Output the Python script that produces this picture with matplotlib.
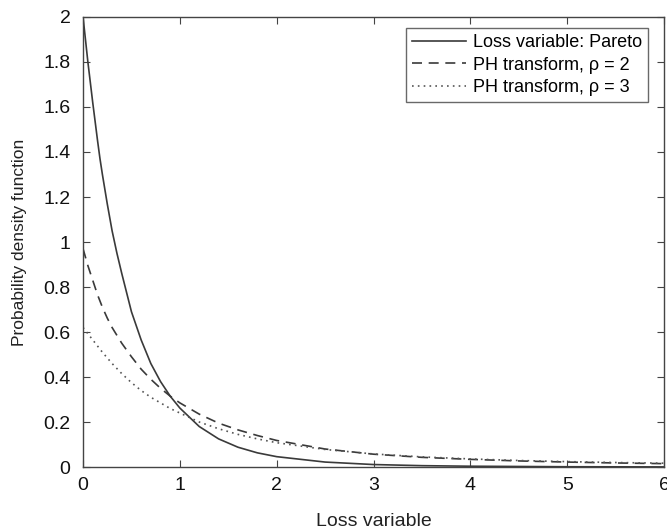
import matplotlib
matplotlib.use("Agg")
import matplotlib.pyplot as plt

# Values
x_solid = [0.0, 0.025, 0.05, 0.075, 0.1, 0.125, 0.15, 0.175, 0.2, 0.25, 0.3, 0.35, 0.4, 0.5, 0.6, 0.7, 0.8, 0.9, 1.0, 1.2, 1.4, 1.6, 1.8, 2.0, 2.5, 3.0, 3.5, 4.0, 5.0, 6.0]
y_solid = [2.0, 1.90, 1.80, 1.71, 1.62, 1.535, 1.45, 1.37, 1.30, 1.17, 1.05, 0.95, 0.86, 0.69, 0.565, 0.46, 0.38, 0.315, 0.262, 0.18, 0.125, 0.088, 0.063, 0.046, 0.022, 0.011, 0.006, 0.0035, 0.0012, 0.0005]

x_rho2 = [0.0, 0.05, 0.1, 0.15, 0.2, 0.25, 0.3, 0.4, 0.5, 0.6, 0.7, 0.8, 0.9, 1.0, 1.2, 1.4, 1.6, 1.8, 2.0, 2.5, 3.0, 3.5, 4.0, 4.5, 5.0, 5.5, 6.0]
y_rho2 = [0.97, 0.895, 0.83, 0.765, 0.71, 0.662, 0.62, 0.55, 0.49, 0.435, 0.39, 0.35, 0.315, 0.285, 0.235, 0.195, 0.165, 0.14, 0.118, 0.08, 0.057, 0.043, 0.034, 0.027, 0.022, 0.018, 0.015]

x_rho3 = [0.0, 0.1, 0.2, 0.3, 0.4, 0.5, 0.6, 0.7, 0.8, 0.9, 1.0, 1.2, 1.4, 1.6, 1.8, 2.0, 2.5, 3.0, 3.5, 4.0, 4.5, 5.0, 5.5, 6.0]
y_rho3 = [0.62, 0.565, 0.51, 0.46, 0.415, 0.375, 0.34, 0.31, 0.285, 0.26, 0.24, 0.20, 0.17, 0.145, 0.125, 0.108, 0.078, 0.058, 0.045, 0.036, 0.029, 0.024, 0.020, 0.017]

labels = ["Loss variable: Pareto", "PH transform, \u03c1 = 2", "PH transform, \u03c1 = 3"]
x_ticks = [0, 1, 2, 3, 4, 5, 6]
y_ticks = [0, 0.2, 0.4, 0.6, 0.8, 1, 1.2, 1.4, 1.6, 1.8, 2]
y_tick_labels = ['0', '0.2', '0.4', '0.6', '0.8', '1', '1.2', '1.4', '1.6', '1.8', '2']

plt.rcParams['font.family'] = ['Liberation Sans', 'DejaVu Sans']

fig = plt.figure(figsize=(6.67, 5.31), dpi=100)
ax = fig.add_axes([0.1245, 0.1205, 0.871, 0.8475])

lc = '#3a3a3a'
ax.plot(x_solid, y_solid, '-', color=lc, lw=1.2, label=labels[0])
ax.plot(x_rho2, y_rho2, color=lc, lw=1.2, linestyle=(0, (6, 4)), label=labels[1])
ax.plot(x_rho3, y_rho3, color='#555555', lw=1.2, linestyle=(0, (1, 2.5)), label=labels[2])

ax.set_xlim(0, 6)
ax.set_ylim(0, 2)
ax.set_xticks(x_ticks)
ax.set_yticks(y_ticks)
ax.set_xticklabels([str(t) for t in x_ticks])
ax.set_yticklabels(y_tick_labels)
ax.tick_params(direction='in', top=True, right=True, length=5, width=0.8,
               labelsize=14, color='#444444', labelcolor='#111111')
ax.tick_params(axis='y', pad=9)
ax.tick_params(axis='x', pad=7)
for s in ax.spines.values():
    s.set_color('#444444')
    s.set_linewidth(1.0)

ax.set_xlabel('Loss variable', fontsize=14, color='#222222', labelpad=14)
ax.set_ylabel('Probability density function', fontsize=12.5, color='#222222', labelpad=12)

leg = ax.legend(loc='upper right', bbox_to_anchor=(0.9725, 0.976), fontsize=13, frameon=True,
                fancybox=False, edgecolor='#444444', handlelength=3.0, handletextpad=0.35,
                borderaxespad=0.0, labelspacing=0.3, borderpad=0.35)
leg.get_frame().set_linewidth(1.0)

fig.savefig('out.png', dpi=100)
